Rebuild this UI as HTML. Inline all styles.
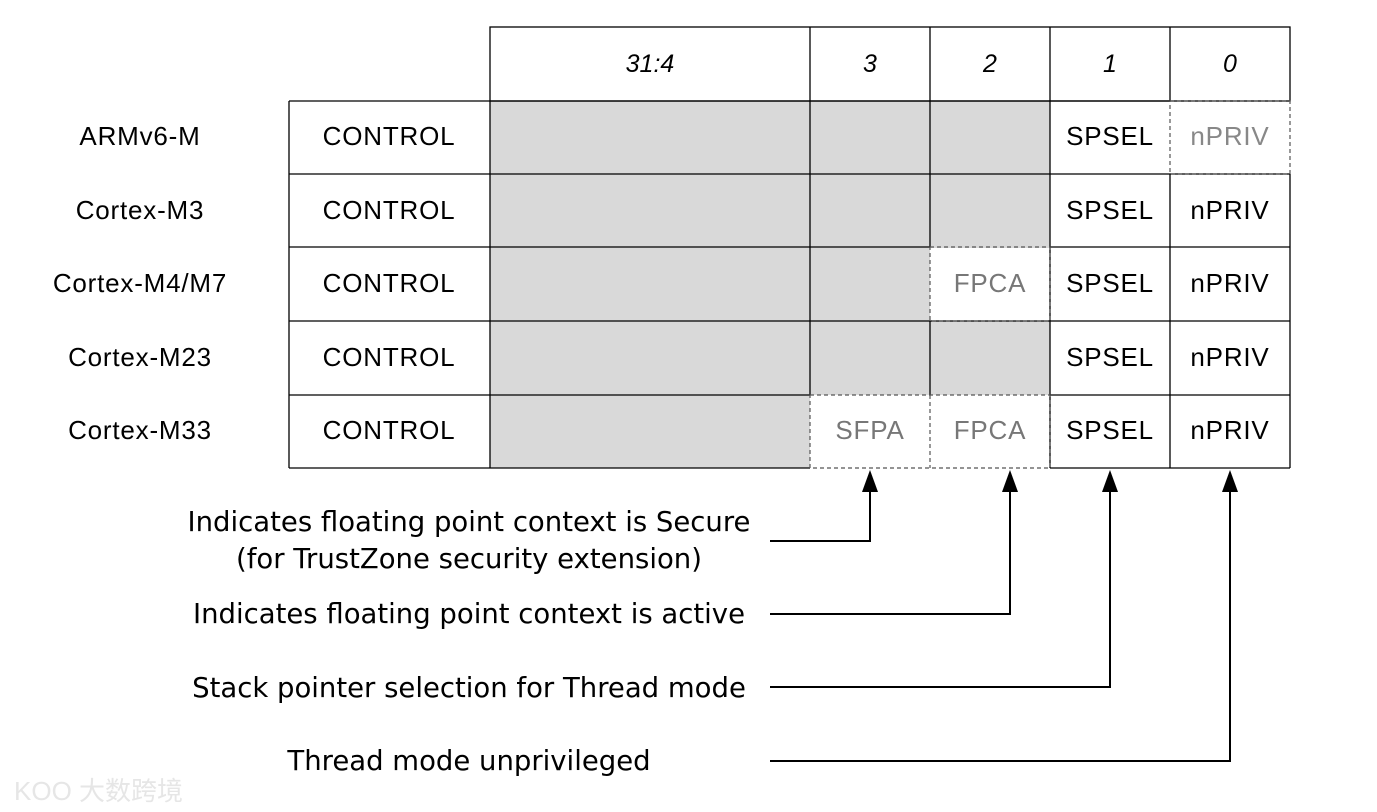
<!DOCTYPE html>
<html><head><meta charset="utf-8"><style>body{margin:0;background:#fff}svg{display:block}</style></head><body>
<svg width="1377" height="812" xmlns="http://www.w3.org/2000/svg" font-family="Liberation Sans, sans-serif">
<g fill="#d9d9d9">
<rect x="490" y="101" width="560" height="147"/>
<rect x="490" y="247" width="440" height="74"/>
<rect x="490" y="321" width="560" height="74"/>
<rect x="490" y="395" width="320" height="73"/>
</g>
<g stroke="#000" stroke-width="1.3" fill="none">
<rect x="490" y="27" width="800" height="74"/>
<line x1="810" y1="27" x2="810" y2="395"/>
<line x1="930" y1="27" x2="930" y2="247"/>
<line x1="1050" y1="27" x2="1050" y2="468"/>
<line x1="1170" y1="27" x2="1170" y2="101"/>
<line x1="1170" y1="174" x2="1170" y2="468"/>
<line x1="289" y1="101" x2="1170" y2="101"/>
<line x1="289" y1="174" x2="1290" y2="174"/>
<line x1="289" y1="247" x2="930" y2="247"/>
<line x1="1050" y1="247" x2="1290" y2="247"/>
<line x1="289" y1="321" x2="1290" y2="321"/>
<line x1="289" y1="395" x2="810" y2="395"/>
<line x1="1050" y1="395" x2="1290" y2="395"/>
<line x1="289" y1="468" x2="810" y2="468"/>
<line x1="1050" y1="468" x2="1290" y2="468"/>
<line x1="289" y1="101" x2="289" y2="468"/>
<line x1="490" y1="101" x2="490" y2="468"/>
<line x1="1290" y1="174" x2="1290" y2="468"/>
<line x1="930" y1="321" x2="930" y2="395"/>
</g>
<g stroke="#555" stroke-width="1.2" fill="none" stroke-dasharray="4,3">
<rect x="1170" y="101" width="120" height="73"/>
<rect x="930" y="247" width="120" height="74"/>
<path d="M810 395H1050V468H810ZM930 395V468"/>
</g>
<g font-size="25" text-anchor="middle" font-style="italic">
<text x="650" y="72">31:4</text><text x="870" y="72">3</text><text x="990" y="72">2</text><text x="1110" y="72">1</text><text x="1230" y="72">0</text>
</g>
<g font-size="26" text-anchor="middle" letter-spacing="0.8">
<text x="140" y="145">ARMv6-M</text><text x="140" y="219">Cortex-M3</text><text x="140" y="292">Cortex-M4/M7</text><text x="140" y="366">Cortex-M23</text><text x="140" y="439">Cortex-M33</text>
<text x="389" y="145">CONTROL</text><text x="389" y="219">CONTROL</text><text x="389" y="292">CONTROL</text><text x="389" y="366">CONTROL</text><text x="389" y="439">CONTROL</text>
<text x="1110" y="145">SPSEL</text><text x="1110" y="219">SPSEL</text><text x="1110" y="292">SPSEL</text><text x="1110" y="366">SPSEL</text><text x="1110" y="439">SPSEL</text>
<text x="1230" y="145" fill="#888">nPRIV</text><text x="1230" y="219">nPRIV</text><text x="1230" y="292">nPRIV</text><text x="1230" y="366">nPRIV</text><text x="1230" y="439">nPRIV</text>
<text x="990" y="292" fill="#777">FPCA</text><text x="990" y="439" fill="#777">FPCA</text><text x="870" y="439" fill="#777">SFPA</text>
</g>
<g stroke="#000" stroke-width="2" fill="none">
<path d="M770 541H870V488"/><path d="M770 614H1010V488"/><path d="M770 687H1110V488"/><path d="M770 761H1230V488"/>
</g>
<g fill="#000">
<path d="M862 492L870 470L878 492Z"/><path d="M1002 492L1010 470L1018 492Z"/><path d="M1102 492L1110 470L1118 492Z"/><path d="M1222 492L1230 470L1238 492Z"/>
</g>
<g font-size="27.5" text-anchor="middle" font-family="DejaVu Sans, sans-serif">
<text x="469" y="531">Indicates floating point context is Secure</text>
<text x="469" y="568">(for TrustZone security extension)</text>
<text x="469" y="623">Indicates floating point context is active</text>
<text x="469" y="697">Stack pointer selection for Thread mode</text>
<text x="469" y="770">Thread mode unprivileged</text>
</g>
<text x="14" y="800" font-size="26" fill="#e6e6e6" font-family="Liberation Sans, Noto Sans CJK SC, sans-serif">KOO 大数跨境</text>
</svg>
</body></html>
